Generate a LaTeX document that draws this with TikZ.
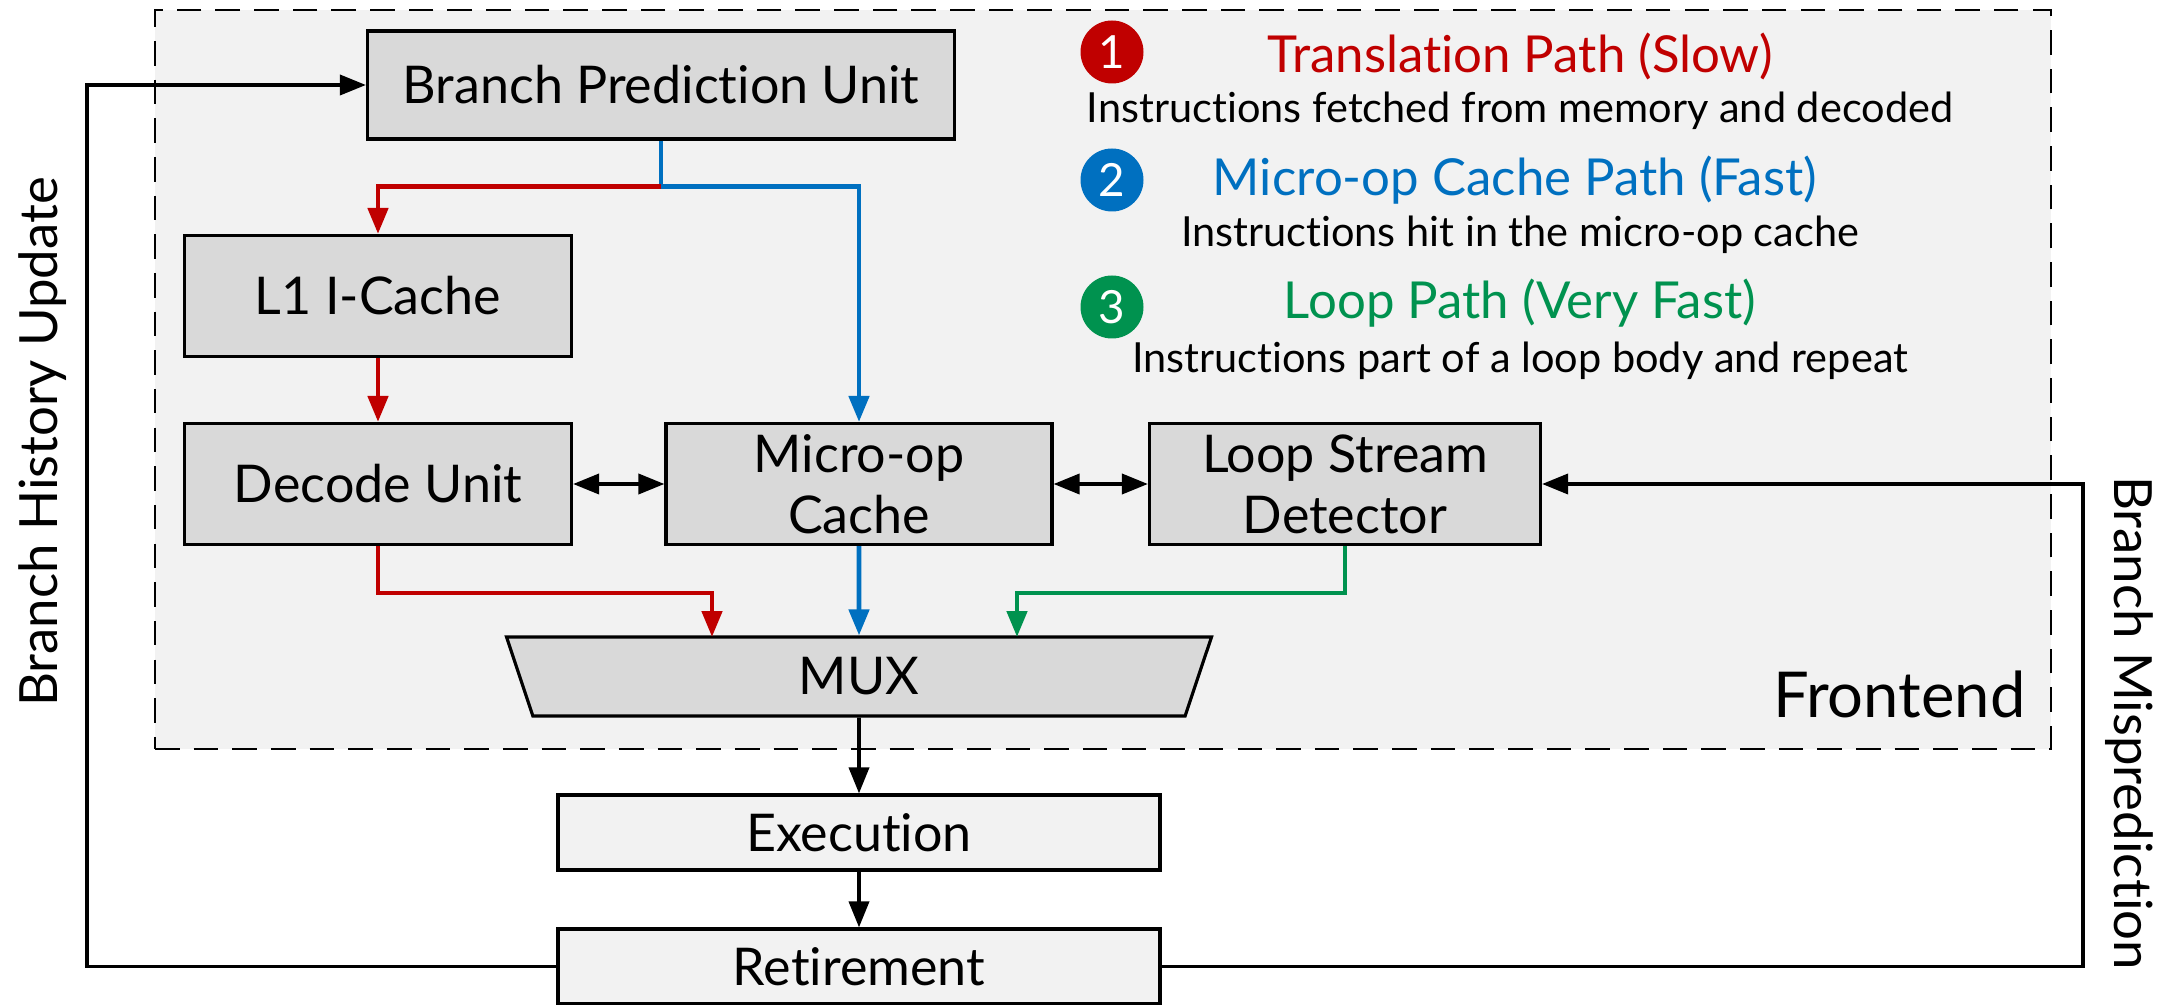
\documentclass[tikz,border=0pt]{standalone}
\usepackage{fontspec}
\setmainfont{Lato}[Ligatures=NoCommon]
\usetikzlibrary{positioning, shapes.geometric, arrows.meta, calc}

\begin{document}
\begin{tikzpicture}[>={Triangle[length=0.26cm, width=0.2cm]},
    unit/.style={draw, line width=0.9pt, fill=boxgray, minimum width=3.87cm, minimum height=1.21cm,
        inner sep=0pt, align=center, font=\fontsize{14.8}{17.4}\selectfont},
    stage/.style={unit, fill=stagegray, minimum width=6.02cm, minimum height=0.75cm},
    path line/.style={->, line width=1.35pt},
    link line/.style={line width=1.05pt},
    badge/.style={circle, fill=#1, text=white, minimum size=0.63cm, inner sep=0pt,
        font=\fontsize{13}{13}\selectfont},
    legtitle/.style={inner sep=0pt, font=\fontsize{14.5}{17}\selectfont},
    legtext/.style={inner sep=0pt, font=\fontsize{11.8}{14}\selectfont},
    sidelabel/.style={inner sep=0pt, font=\fontsize{15}{17}\selectfont}]
    \definecolor{transred}{HTML}{C00000}
    \definecolor{uopblue}{HTML}{0070C0}
    \definecolor{loopgreen}{HTML}{00924F}
    \definecolor{boxgray}{HTML}{D9D9D9}
    \definecolor{stagegray}{HTML}{F2F2F2}

    \useasboundingbox (0,0) rectangle (21.76,10.04);

    % --- Frontend region ---
    \node[draw, dash pattern=on 7pt off 4pt, line width=0.8pt, fill=stagegray,
        minimum width=18.96cm, minimum height=7.39cm] (frontend) at (11.03, 6.245) {};
    \node[anchor=east, inner sep=0pt, font=\fontsize{18}{22}\selectfont] (frontlabel) at (20.26, 3.10) {Frontend};

    % Units
    \node[unit, minimum width=5.87cm, minimum height=1.08cm] (bpu) at (6.61, 9.19) {Branch Prediction Unit};
    \node[unit] (l1) at (3.78, 7.08) {L1 I-Cache};
    \node[unit] (decode) at (3.78, 5.20) {Decode Unit};
    \node[unit, minimum width=3.86cm] (uop) at (8.59, 5.20) {Micro-op\\Cache};
    \node[unit, minimum width=3.91cm] (lsd) at (13.45, 5.20) {Loop Stream\\Detector};
    \node[unit, trapezium, trapezium left angle=55, trapezium right angle=55, trapezium stretches body,
        shape border rotate=180, minimum width=7.05cm, minimum height=0.79cm] (mux) at (8.59, 3.275) {MUX};

    % Backend stages
    \node[stage] (exec) at (8.59, 1.715) {Execution};
    \node[stage] (retire) at (8.59, 0.375) {Retirement};

    % --- Paths ---
    \coordinate (split) at ($(bpu.south)+(0,-0.46)$);
    \coordinate (muxred) at ($(mux.center)+(-1.47,0.395)$);
    \coordinate (muxgreen) at ($(mux.center)+(1.58,0.395)$);
    \draw[path line, uopblue] (bpu.south) -- (split) -| (uop.north);
    \draw[path line, transred] (split) -| (l1.north);
    \draw[path line, transred] (l1) -- (decode);
    \draw[path line, transred] (decode.south) |- ($(muxred)+(0,0.44)$) -- (muxred);
    \draw[path line, uopblue] (uop) -- (mux);
    \draw[path line, loopgreen] (lsd.south) |- ($(muxgreen)+(0,0.44)$) -- (muxgreen);

    \draw[<->, link line] (decode) -- (uop);
    \draw[<->, link line] (uop) -- (lsd);
    \draw[->, link line] (mux) -- (exec);
    \draw[->, link line] (exec) -- (retire);

    % Feedback loops
    \coordinate (histx) at (0.87, 0);
    \coordinate (mispx) at (20.83, 0);
    \draw[->, link line] (retire.west) -- (retire.west -| histx) |- (bpu.west);
    \draw[->, link line] (retire.east) -- (retire.east -| mispx) |- (lsd.east);
    \node[sidelabel, rotate=90] (histlabel) at (0.43, 5.62) {Branch History Update};
    \node[sidelabel, rotate=-90] (misplabel) at (21.29, 2.81) {Branch Misprediction};

    % --- Legend ---
    \node[badge=transred] (badge1) at (11.12, 9.52) {1};
    \node[legtitle, text=transred] (title1) at (15.20, 9.48) {Translation Path (Slow)};
    \node[legtext] (desc1) at (15.20, 8.93) {Instructions fetched from memory and decoded};
    \node[badge=uopblue] (badge2) at (11.12, 8.24) {2};
    \node[legtitle, text=uopblue] (title2) at (15.15, 8.24) {Micro-op Cache Path (Fast)};
    \node[legtext] (desc2) at (15.20, 7.69) {Instructions hit in the micro-op cache};
    \node[badge=loopgreen] (badge3) at (11.12, 6.97) {3};
    \node[legtitle, text=loopgreen] (title3) at (15.20, 7.01) {Loop Path (Very Fast)};
    \node[legtext] (desc3) at (15.20, 6.43) {Instructions part of a loop body and repeat};
\end{tikzpicture}
\end{document}
